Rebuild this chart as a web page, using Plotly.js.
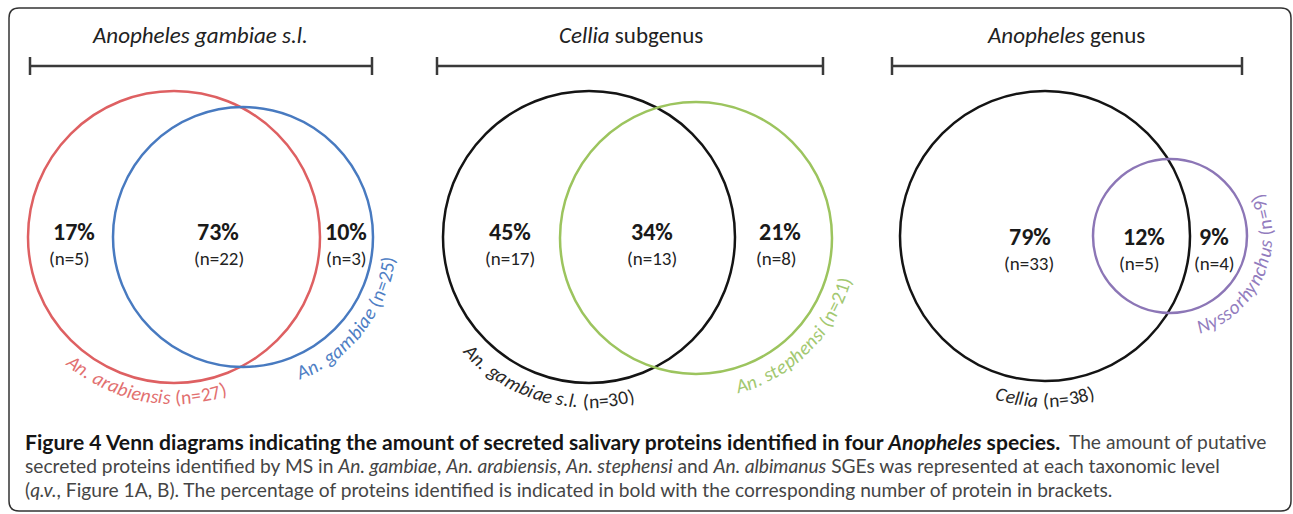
<!DOCTYPE html>
<html><head><meta charset="utf-8">
<script src="https://cdn.plot.ly/plotly-3.0.1.min.js"></script>
<style>html,body{margin:0;padding:0;background:#fff;} #chart{width:1293px;height:514px;}</style>
</head><body><div id="chart"></div>
<script>
// ---------------- data ----------------
const panelTitles = ['<i>Anopheles gambiae s.l.</i>', '<i>Cellia</i> subgenus', '<i>Anopheles</i> genus'];
const setNames = [['An. arabiensis', 'An. gambiae'], ['An. gambiae s.l.', 'An. stephensi'], ['Cellia', 'Nyssorhynchus']];
const setCounts = [[27, 25], [30, 21], [38, 9]];
const regionPercents = [[17, 73, 10], [45, 34, 21], [79, 12, 9]];
const regionCounts = [[5, 22, 3], [17, 13, 8], [33, 5, 4]];
const captionBold = [{t: 'Figure 4 Venn diagrams indicating the amount of secreted salivary proteins identified in four '}, {t: 'Anopheles', i: 1}, {t: ' species.'}];
const captionLines = [
  [{t: 'The amount of putative'}],
  [{t: 'secreted proteins identified by MS in '}, {t: 'An. gambiae', i: 1}, {t: ', '}, {t: 'An. arabiensis', i: 1}, {t: ', '}, {t: 'An. stephensi', i: 1}, {t: ' and '}, {t: 'An. albimanus', i: 1}, {t: ' SGEs was represented at each taxonomic level'}],
  [{t: '('}, {t: 'q.v.', i: 1}, {t: ', Figure 1A, B). The percentage of proteins identified is indicated in bold with the corresponding number of protein in brackets.'}]
];

// ---------------- layout geometry (pixel-like axis units) ----------------
const FONT = 'Carlito, Lato, sans-serif';
const CAPFONT = 'Lato, sans-serif';
const geom = [
  { titleX: 200, bracket: [30, 372],
    circles: [{cx: 174, cy: 237, r: 146, color: 'rgb(222,96,98)'}, {cx: 243, cy: 237, r: 130, color: 'rgb(72,122,192)'}],
    labelColors: ['rgb(226,112,112)', 'rgb(78,126,196)'],
    arcs: [{R: 160, mid: 101}, {R: 147, mid: 38}],
    pctX: [74, 218, 346], nX: [69, 219, 346], pctY: 231, nY: 258 },
  { titleX: 631, bracket: [437, 823],
    circles: [{cx: 589, cy: 237, r: 146, color: 'rgb(20,20,20)'}, {cx: 696, cy: 238, r: 136, color: 'rgb(156,196,94)'}],
    labelColors: ['rgb(40,40,40)', 'rgb(162,200,112)'],
    arcs: [{R: 164, mid: 106}, {R: 154, mid: 45}],
    pctX: [510, 652, 780], nX: [510, 652, 776], pctY: 231, nY: 258 },
  { titleX: 1066, bracket: [892, 1242],
    circles: [{cx: 1045, cy: 236, r: 145, color: 'rgb(20,20,20)'}, {cx: 1170, cy: 236, r: 77, color: 'rgb(140,118,182)'}],
    labelColors: ['rgb(40,40,40)', 'rgb(146,124,190)'],
    arcs: [{R: 164, mid: 90}, {R: 95, mid: 24}],
    pctX: [1030, 1144, 1214], nX: [1029, 1139, 1214], pctY: 236, nY: 263 }
];

const canvas = document.createElement('canvas');
const ctx = canvas.getContext('2d');
function measure(text, size, family, italic, bold) {
  ctx.font = (italic ? 'italic ' : '') + (bold ? 'bold ' : '') + size + 'px ' + family;
  return ctx.measureText(text).width;
}

const shapes = [];
const annotations = [];

// outer rounded frame
shapes.push({type: 'path', xref: 'x', yref: 'y',
  path: 'M 19 8 L 1281 8 Q 1291 8 1291 18 L 1291 501 Q 1291 511 1281 511 L 19 511 Q 9 511 9 501 L 9 18 Q 9 8 19 8 Z',
  line: {color: '#333', width: 1.5}, fillcolor: 'rgba(0,0,0,0)'});

function arcLabel(segs, cx, cy, R, midDeg, color, size) {
  const chars = [];
  segs.forEach(s => { for (const ch of s.t) chars.push({ch: ch, i: s.i}); });
  chars.forEach(c => { c.w = measure(c.ch, size, FONT, c.i, false); });
  const L = chars.reduce((a, c) => a + c.w, 0);
  const start = midDeg * Math.PI / 180 + L / (2 * R);
  let s = 0;
  chars.forEach(c => {
    const th = start - (s + c.w / 2) / R;
    s += c.w;
    if (c.ch === ' ') return;
    annotations.push({x: cx + R * Math.cos(th), y: cy + R * Math.sin(th), xref: 'x', yref: 'y',
      text: c.i ? '<i>' + c.ch + '</i>' : c.ch, showarrow: false, textangle: th * 180 / Math.PI - 90,
      xanchor: 'center', yanchor: 'middle', borderpad: 0,
      font: {family: FONT, size: size, color: color}});
  });
}

geom.forEach((g, p) => {
  // title
  annotations.push({x: g.titleX, y: 35, xref: 'x', yref: 'y', text: panelTitles[p], showarrow: false,
    xanchor: 'center', yanchor: 'middle', font: {family: FONT, size: 23, color: '#222'}});
  // bracket
  const [b0, b1] = g.bracket;
  shapes.push({type: 'line', xref: 'x', yref: 'y', x0: b0, x1: b1, y0: 66, y1: 66, line: {color: '#3a3a3a', width: 2.5}});
  shapes.push({type: 'line', xref: 'x', yref: 'y', x0: b0, x1: b0, y0: 57, y1: 75, line: {color: '#3a3a3a', width: 2.5}});
  shapes.push({type: 'line', xref: 'x', yref: 'y', x0: b1, x1: b1, y0: 57, y1: 75, line: {color: '#3a3a3a', width: 2.5}});
  // circles
  g.circles.forEach(c => {
    shapes.push({type: 'circle', xref: 'x', yref: 'y', x0: c.cx - c.r, x1: c.cx + c.r, y0: c.cy - c.r, y1: c.cy + c.r,
      line: {color: c.color, width: 2.5}, fillcolor: 'rgba(0,0,0,0)'});
  });
  // region labels
  regionPercents[p].forEach((v, k) => {
    annotations.push({x: g.pctX[k], y: g.pctY, xref: 'x', yref: 'y', text: '<b>' + v + '%</b>', showarrow: false,
      xanchor: 'center', yanchor: 'middle', borderpad: 0, font: {family: FONT, size: 24, color: '#1a1a1a'}});
    annotations.push({x: g.nX[k], y: g.nY, xref: 'x', yref: 'y', text: '(n=' + regionCounts[p][k] + ')', showarrow: false,
      xanchor: 'center', yanchor: 'middle', borderpad: 0, font: {family: FONT, size: 19, color: '#222'}});
  });
  // set labels along arcs
  g.circles.forEach((c, k) => {
    const segs = [{t: setNames[p][k], i: 1}, {t: ' (n=' + setCounts[p][k] + ')'}];
    arcLabel(segs, c.cx, c.cy, g.arcs[k].R, g.arcs[k].mid, g.labelColors[k], 19.5);
  });
});

// caption
function segWidth(segs, size, bold) {
  return segs.reduce((a, s) => a + measure(s.t, size, CAPFONT, s.i, bold), 0);
}
function toHtml(segs) { return segs.map(s => s.i ? '<i>' + s.t + '</i>' : s.t).join(''); }
const capX = 24;
const boldSize = 100 * 1038 / segWidth(captionBold, 100, true);
const regSize = 100 * 1090 / segWidth(captionLines[2], 100, false);
const capY = [441, 465, 489];
annotations.push({x: capX, y: capY[0], xref: 'x', yref: 'y', text: '<b>' + toHtml(captionBold) + '</b>', showarrow: false,
  xanchor: 'left', yanchor: 'middle', borderpad: 0, font: {family: CAPFONT, size: boldSize, color: '#151515'}});
const line1RegX = capX + segWidth(captionBold, boldSize, true) + measure(' ', regSize, CAPFONT, false, false) + 2;
captionLines.forEach((segs, li) => {
  annotations.push({x: li === 0 ? line1RegX : capX, y: capY[li], xref: 'x', yref: 'y', text: toHtml(segs), showarrow: false,
    xanchor: 'left', yanchor: 'middle', borderpad: 0, font: {family: CAPFONT, size: regSize, color: '#454545'}});
});

const layout = {
  width: 1293, height: 514, margin: {l: 0, r: 0, t: 0, b: 0},
  paper_bgcolor: '#fff', plot_bgcolor: '#fff', showlegend: false,
  xaxis: {range: [0, 1293], visible: false, fixedrange: true},
  yaxis: {range: [514, 0], visible: false, fixedrange: true},
  shapes: shapes, annotations: annotations
};
Plotly.newPlot('chart', [], layout, {staticPlot: true, displayModeBar: false});
</script>
</body></html>
